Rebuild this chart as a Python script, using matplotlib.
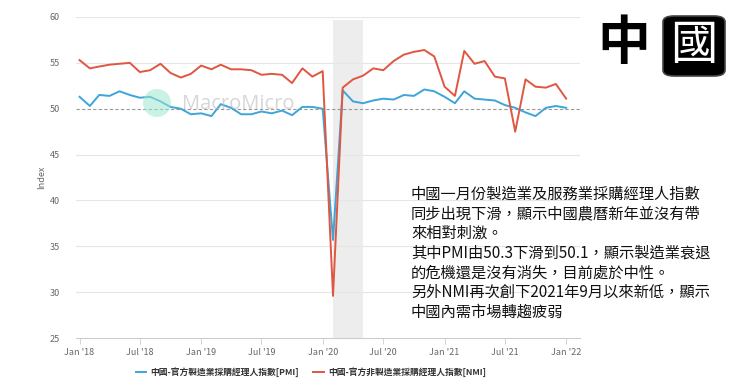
import datetime as dt
import matplotlib
matplotlib.use("Agg")
import matplotlib.pyplot as plt
import matplotlib.dates as mdates
from matplotlib.patches import FancyBboxPatch, Ellipse

plt.rcParams['font.family'] = ['Noto Sans CJK TC', 'DejaVu Sans']

# monthly data, Jan 2018 - Jan 2022
months = [dt.date(2018 + i // 12, i % 12 + 1, 1) for i in range(49)]

pmi = [51.3, 50.3, 51.5, 51.4, 51.9, 51.5, 51.2, 51.3, 50.8, 50.2, 50.0, 49.4,
       49.5, 49.2, 50.5, 50.1, 49.4, 49.4, 49.7, 49.5, 49.8, 49.3, 50.2, 50.2,
       50.0, 35.7, 52.0, 50.8, 50.6, 50.9, 51.1, 51.0, 51.5, 51.4, 52.1, 51.9,
       51.3, 50.6, 51.9, 51.1, 51.0, 50.9, 50.4, 50.1, 49.6, 49.2, 50.1, 50.3,
       50.1]
nmi = [55.3, 54.4, 54.6, 54.8, 54.9, 55.0, 54.0, 54.2, 54.9, 53.9, 53.4, 53.8,
       54.7, 54.3, 54.8, 54.3, 54.3, 54.2, 53.7, 53.8, 53.7, 52.8, 54.4, 53.5,
       54.1, 29.6, 52.3, 53.2, 53.6, 54.4, 54.2, 55.2, 55.9, 56.2, 56.4, 55.7,
       52.4, 51.4, 56.3, 54.9, 55.2, 53.5, 53.3, 47.5, 53.2, 52.4, 52.3, 52.7,
       51.1]

shade_start = dt.date(2020, 2, 1)
shade_end = dt.date(2020, 5, 1)

label_pmi = "中國-官方製造業採購經理人指數[PMI]"
label_nmi = "中國-官方非製造業採購經理人指數[NMI]"

note = ("中國一月份製造業及服務業採購經理人指數\n"
        "同步出現下滑，顯示中國農曆新年並沒有帶\n"
        "來相對刺激。\n"
        "其中PMI由50.3下滑到50.1，顯示製造業衰退\n"
        "的危機還是沒有消失，目前處於中性。\n"
        "另外NMI再次創下2021年9月以來新低，顯示\n"
        "中國內需市場轉趨疲弱")

fig = plt.figure(figsize=(7.4, 3.86), dpi=100)
ax = fig.add_axes([0.103, 0.124, 0.681, 0.832])

blue = "#3da5d9"
red = "#e05641"

ax.axvspan(shade_start, shade_end, ymax=0.99, color="#ededed", lw=0, zorder=0)
for y in range(30, 61, 5):
    if y != 50:
        ax.axhline(y, color="#e6e6e6", lw=0.8, zorder=1)
ax.axhline(50, color="#999999", lw=0.8, ls=(0, (3, 2)), zorder=1)

ax.plot(months, pmi, color=blue, lw=1.4, label=label_pmi, zorder=3)
ax.plot(months, nmi, color=red, lw=1.4, label=label_nmi, zorder=3)

ax.set_ylim(25, 60)
ax.set_yticks(range(25, 61, 5))
ax.set_xlim(dt.date(2017, 12, 22), dt.date(2022, 2, 12))
ax.xaxis.set_major_locator(mdates.MonthLocator(bymonth=[1, 7]))
ax.xaxis.set_major_formatter(mdates.DateFormatter("%b '%y"))
ax.tick_params(axis="x", labelsize=6.5, colors="#666666", length=4, width=0.6, color="#cccccc", pad=3)
ax.tick_params(axis="y", labelsize=6.5, colors="#666666", length=0, pad=12)
for s in ["top", "right", "left"]:
    ax.spines[s].set_visible(False)
ax.spines["bottom"].set_color("#cccccc")
ax.spines["bottom"].set_linewidth(0.8)
ax.set_ylabel("Index", fontsize=6.5, color="#666666", labelpad=2)

# watermark
fig.patches.append(Ellipse((157 / 740, 1 - 103 / 386), 28 / 740, 28 / 386,
                           transform=fig.transFigure, facecolor="#9fe8cf",
                           alpha=0.55, lw=0, zorder=2))
fig.text(182 / 740, 1 - 104 / 386, "MacroMicro", fontsize=14.5, color="#bbbbbb",
         alpha=0.6, va="center", ha="left", family="Open Sans")

leg = fig.legend(loc="center", bbox_to_anchor=(0.42, 0.036), ncol=2, frameon=False,
                 fontsize=6.3, handlelength=1.2, columnspacing=1.6, handletextpad=0.5)
for t in leg.get_texts():
    t.set_fontweight("bold")
    t.set_color("#333333")

fig.text(411 / 740, 1 - 186 / 386, note, fontsize=11, color="#111111",
         va="top", ha="left", linespacing=1.2)

# badge
fig.text(624 / 740, 1 - 44 / 386, "中", fontsize=38, fontweight="bold", color="black",
         ha="center", va="center")
box = FancyBboxPatch((663 / 740, 1 - 76 / 386), 62 / 740, 60 / 386,
                     boxstyle="round,pad=0,rounding_size=0.015", transform=fig.transFigure,
                     facecolor="black", edgecolor="#444444", lw=1.2)
fig.patches.append(box)
fig.text(694 / 740, 1 - 46 / 386, "國", fontsize=34, color="white",
         ha="center", va="center")

fig.savefig("out.png", dpi=100)
